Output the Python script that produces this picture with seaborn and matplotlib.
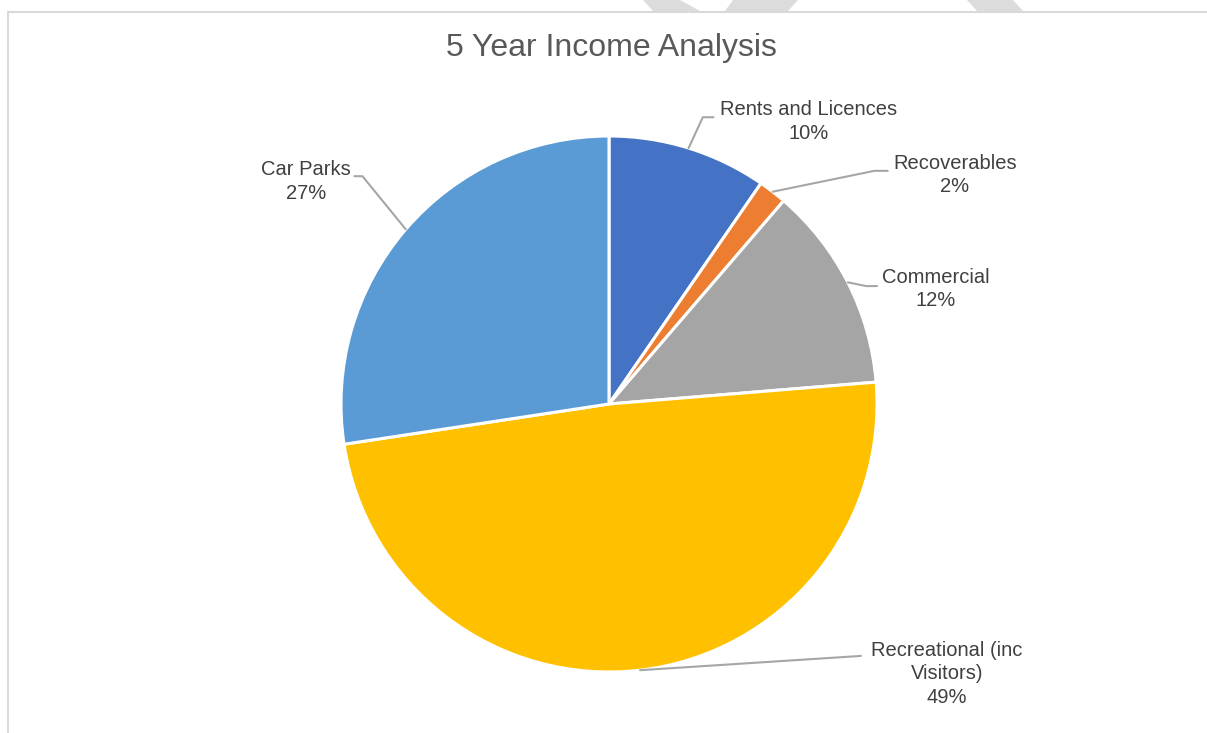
import seaborn as sns
import matplotlib.pyplot as plt
from matplotlib.patches import Polygon
from matplotlib.lines import Line2D
import numpy as np

categories = ["Rents and Licences", "Recoverables", "Commercial",
              "Recreational (inc\nVisitors)", "Car Parks"]
shares = [9.6, 1.7, 12.4, 48.9, 27.4]
colors = ["#4472C4", "#ED7D31", "#A5A5A5", "#FFC000", "#5B9BD5"]
title = "5 Year Income Analysis"

# label layout: (elbow x, elbow y, line end x, text x, text y) in pie data units
label_pos = [
    (0.35, 1.07, 0.39, 0.745, 1.055),
    (0.99, 0.87, 1.04, 1.29, 0.855),
    (0.96, 0.44, 1.0, 1.22, 0.43),
    (0.94, -0.94, 0.94, 1.26, -1.007),
    (-0.92, 0.85, -0.95, -1.13, 0.83),
]

sns.set_theme(style="white")
plt.rcParams["font.family"] = ["Liberation Sans", "DejaVu Sans"]

W, H = 1207, 733
fig = plt.figure(figsize=(W / 100, H / 100), dpi=100)
cx, cy, r = 609, 404, 268
ax = fig.add_axes([(cx - r) / W, (H - cy - r) / H, 2 * r / W, 2 * r / H])

wedges, _ = ax.pie(shares, colors=colors, startangle=90, counterclock=False,
                   radius=1, wedgeprops=dict(edgecolor="white", linewidth=2.2))
ax.set_xlim(-1, 1)
ax.set_ylim(-1, 1)
ax.set_aspect("equal")
ax.axis("off")

total = sum(shares)
for w, name, v, (ex, ey, lx, tx, ty) in zip(wedges, categories, shares, label_pos):
    mid = np.deg2rad((w.theta1 + w.theta2) / 2)
    sx, sy = np.cos(mid), np.sin(mid)
    ax.add_line(Line2D([sx, ex, lx], [sy, ey, ey], color="#A6A6A6", lw=1.5,
                       clip_on=False))
    ax.text(tx, ty, f"{name}\n{v / total * 100:.0f}%", ha="center", va="center",
            fontsize=14.5, color="#404040", linespacing=1.3, clip_on=False)

fig.text(611 / W, 1 - 48 / H, title, ha="center", va="center", fontsize=23,
         color="#595959")

# chart frame
fig.add_artist(Line2D([7.5 / W, 7.5 / W], [0, 1 - 11.5 / H], color="#D9D9D9",
                      lw=1.5, transform=fig.transFigure))
fig.add_artist(Line2D([7.5 / W, 1], [1 - 11.5 / H, 1 - 11.5 / H], color="#D9D9D9",
                      lw=1.5, transform=fig.transFigure))

# watermark fragments above the frame
for pts in [[(643, 0), (680, 0), (700, 11), (653, 11)],
            [(733, 0), (798, 0), (788, 11), (725, 11)],
            [(967, 0), (1013, 0), (1023, 11), (977, 11)]]:
    fig.add_artist(Polygon([(x / W, 1 - y / H) for x, y in pts], closed=True,
                           facecolor="#DCDCDC", edgecolor="none",
                           transform=fig.transFigure))

fig.savefig("out.png", dpi=100)
